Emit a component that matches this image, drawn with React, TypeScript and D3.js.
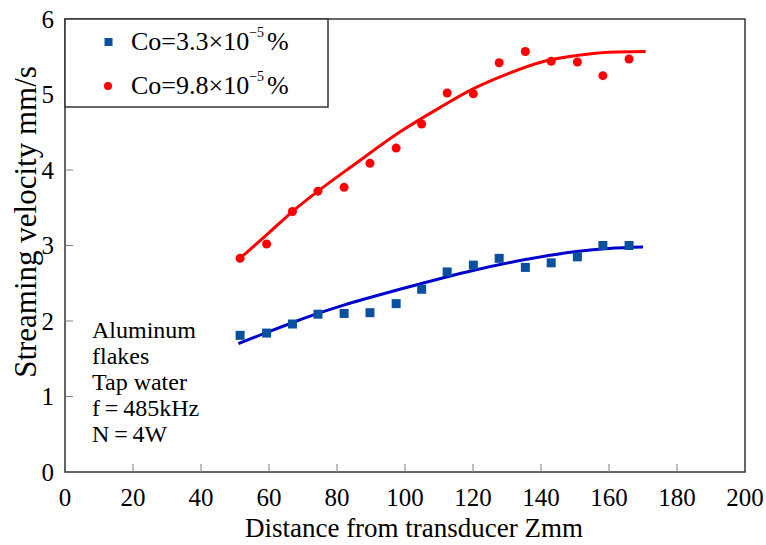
import * as d3 from "d3";

const distance = [51.5, 59.3, 66.9, 74.4, 82.1, 89.7, 97.4, 104.9, 112.4, 120.1, 127.7, 135.4, 143.0, 150.7, 158.2, 165.9];
const lowConc = [1.81, 1.84, 1.96, 2.09, 2.10, 2.11, 2.23, 2.42, 2.65, 2.74, 2.83, 2.71, 2.77, 2.85, 3.0, 3.0];
const highConc = [2.83, 3.02, 3.45, 3.72, 3.77, 4.09, 4.29, 4.61, 5.02, 5.01, 5.42, 5.57, 5.44, 5.43, 5.25, 5.47];

// fitted trend lines
const lowFitX = [51, 60, 67, 74.4, 82, 98.5, 120, 135, 150.5, 160, 170];
const lowFitY = [1.7, 1.86, 1.98, 2.1, 2.21, 2.42, 2.67, 2.81, 2.92, 2.96, 2.98];
const highFitX = [51.5, 59.3, 66.9, 74.4, 85, 98.7, 110, 120.3, 130, 141, 151, 160, 170.8];
const highFitY = [2.83, 3.14, 3.45, 3.72, 4.07, 4.51, 4.82, 5.08, 5.27, 5.44, 5.52, 5.56, 5.57];

const xTicks = [0, 20, 40, 60, 80, 100, 120, 140, 160, 180, 200];
const yTicks = [0, 1, 2, 3, 4, 5, 6];
const notes = ["Aluminum", "flakes", "Tap water", "f\u2009=\u2009485kHz", "N\u2009=\u20094W"];

const W = 766;
const H = 545;
const left = 65, right = 745, top = 19, bottom = 472;
const tf = { fontFamily: "Liberation Serif" };

export default function App() {
  const x = d3.scaleLinear().domain([0, 200]).range([left, right]);
  const y = d3.scaleLinear().domain([0, 6]).range([bottom, top]);

  const line = d3.line<[number, number]>()
    .x(d => x(d[0]))
    .y(d => y(d[1]))
    .curve(d3.curveMonotoneX);

  const lowFit = line(lowFitX.map((v, i) => [v, lowFitY[i]]));
  const highFit = line(highFitX.map((v, i) => [v, highFitY[i]]));

  return (
    <svg width={W} height={H} style={{ position: "absolute", left: 0, top: 0, background: "#fff" }}>
      <rect x={left} y={top} width={right - left} height={bottom - top} fill="none" stroke="#333" strokeWidth={1.5} />

      {xTicks.map(t => (
        <g key={"x" + t}>
          {t > 0 && t < 200 && <line x1={x(t)} x2={x(t)} y1={bottom} y2={bottom - 8} stroke="#808080" strokeWidth={1} />}
          <text x={x(t)} y={506} fontSize={25} textAnchor="middle" style={tf}>{t}</text>
        </g>
      ))}
      {yTicks.map(t => (
        <g key={"y" + t}>
          {t > 0 && t < 6 && <line x1={left} x2={left + 8} y1={y(t)} y2={y(t)} stroke="#808080" strokeWidth={1} />}
          <text x={54} y={y(t)} fontSize={25} textAnchor="end" dominantBaseline="central" style={tf}>{t}</text>
        </g>
      ))}

      <text x={414} y={537} fontSize={27} textAnchor="middle" style={tf}>Distance from transducer Zmm</text>
      <text transform="translate(36,222) rotate(-90)" fontSize={31} textAnchor="middle" style={tf}>
        Streaming velocity mm/s
      </text>

      <path d={lowFit ?? ""} fill="none" stroke="#0000cd" strokeWidth={3} />
      <path d={highFit ?? ""} fill="none" stroke="#ff0000" strokeWidth={3} />

      {distance.map((d, i) => (
        <rect key={"s" + i} x={x(d) - 4.5} y={y(lowConc[i]) - 4.5} width={9} height={9} fill="#0a50a0" />
      ))}
      {distance.map((d, i) => (
        <circle key={"c" + i} cx={x(d)} cy={y(highConc[i])} r={4.5} fill="#ff0000" />
      ))}

      <rect x={left} y={top} width={328 - left} height={107 - top} fill="#fff" stroke="#333" strokeWidth={1.5} />
      <rect x={104.5} y={38} width={8} height={8} fill="#0a50a0" />
      <text x={131} y={50} fontSize={26} style={tf}>
        Co=3.3×10<tspan dy={-13} fontSize={14}>−5</tspan><tspan dy={13} dx={3}>%</tspan>
      </text>
      <circle cx={108} cy={86} r={4} fill="#ff0000" />
      <text x={131} y={94} fontSize={26} style={tf}>
        Co=9.8×10<tspan dy={-13} fontSize={14}>−5</tspan><tspan dy={13} dx={3}>%</tspan>
      </text>

      {notes.map((n, i) => (
        <text key={n} x={92} y={338 + i * 26} fontSize={24} style={tf}>{n}</text>
      ))}
    </svg>
  );
}
